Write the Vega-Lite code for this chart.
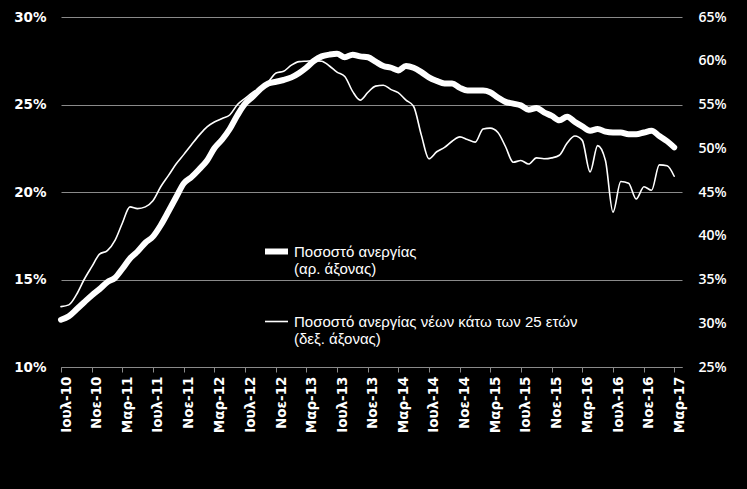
{
  "$schema": "https://vega.github.io/schema/vega-lite/v6.json",
  "width": 621,
  "height": 350,
  "autosize": {"type": "none"},
  "padding": {"left": 61, "top": 17, "right": 65, "bottom": 122},
  "background": "#000000",
  "config": {"view": {"stroke": null}, "font": "Liberation Sans"},
  "data": {"values": [
    {"d":"2010-07-01","s":"a","v":12.7},{"d":"2010-08-01","s":"a","v":12.9},{"d":"2010-09-01","s":"a","v":13.3},{"d":"2010-10-01","s":"a","v":13.7},{"d":"2010-11-01","s":"a","v":14.1},{"d":"2010-12-01","s":"a","v":14.45},
    {"d":"2011-01-01","s":"a","v":14.85},{"d":"2011-02-01","s":"a","v":15.1},{"d":"2011-03-01","s":"a","v":15.6},{"d":"2011-04-01","s":"a","v":16.2},{"d":"2011-05-01","s":"a","v":16.6},{"d":"2011-06-01","s":"a","v":17.1},{"d":"2011-07-01","s":"a","v":17.45},{"d":"2011-08-01","s":"a","v":18.1},{"d":"2011-09-01","s":"a","v":18.9},{"d":"2011-10-01","s":"a","v":19.7},{"d":"2011-11-01","s":"a","v":20.5},{"d":"2011-12-01","s":"a","v":20.85},
    {"d":"2012-01-01","s":"a","v":21.3},{"d":"2012-02-01","s":"a","v":21.8},{"d":"2012-03-01","s":"a","v":22.5},{"d":"2012-04-01","s":"a","v":23.0},{"d":"2012-05-01","s":"a","v":23.6},{"d":"2012-06-01","s":"a","v":24.4},{"d":"2012-07-01","s":"a","v":25.05},{"d":"2012-08-01","s":"a","v":25.45},{"d":"2012-09-01","s":"a","v":25.9},{"d":"2012-10-01","s":"a","v":26.2},{"d":"2012-11-01","s":"a","v":26.3},{"d":"2012-12-01","s":"a","v":26.4},
    {"d":"2013-01-01","s":"a","v":26.55},{"d":"2013-02-01","s":"a","v":26.8},{"d":"2013-03-01","s":"a","v":27.1},{"d":"2013-04-01","s":"a","v":27.5},{"d":"2013-05-01","s":"a","v":27.75},{"d":"2013-06-01","s":"a","v":27.85},{"d":"2013-07-01","s":"a","v":27.9},{"d":"2013-08-01","s":"a","v":27.7},{"d":"2013-09-01","s":"a","v":27.85},{"d":"2013-10-01","s":"a","v":27.75},{"d":"2013-11-01","s":"a","v":27.7},{"d":"2013-12-01","s":"a","v":27.45},
    {"d":"2014-01-01","s":"a","v":27.2},{"d":"2014-02-01","s":"a","v":27.1},{"d":"2014-03-01","s":"a","v":26.95},{"d":"2014-04-01","s":"a","v":27.2},{"d":"2014-05-01","s":"a","v":27.1},{"d":"2014-06-01","s":"a","v":26.85},{"d":"2014-07-01","s":"a","v":26.55},{"d":"2014-08-01","s":"a","v":26.35},{"d":"2014-09-01","s":"a","v":26.2},{"d":"2014-10-01","s":"a","v":26.2},{"d":"2014-11-01","s":"a","v":25.95},{"d":"2014-12-01","s":"a","v":25.8},
    {"d":"2015-01-01","s":"a","v":25.8},{"d":"2015-02-01","s":"a","v":25.8},{"d":"2015-03-01","s":"a","v":25.7},{"d":"2015-04-01","s":"a","v":25.4},{"d":"2015-05-01","s":"a","v":25.15},{"d":"2015-06-01","s":"a","v":25.05},{"d":"2015-07-01","s":"a","v":24.95},{"d":"2015-08-01","s":"a","v":24.7},{"d":"2015-09-01","s":"a","v":24.8},{"d":"2015-10-01","s":"a","v":24.55},{"d":"2015-11-01","s":"a","v":24.35},{"d":"2015-12-01","s":"a","v":24.1},
    {"d":"2016-01-01","s":"a","v":24.3},{"d":"2016-02-01","s":"a","v":24.0},{"d":"2016-03-01","s":"a","v":23.75},{"d":"2016-04-01","s":"a","v":23.5},{"d":"2016-05-01","s":"a","v":23.6},{"d":"2016-06-01","s":"a","v":23.45},{"d":"2016-07-01","s":"a","v":23.4},{"d":"2016-08-01","s":"a","v":23.4},{"d":"2016-09-01","s":"a","v":23.3},{"d":"2016-10-01","s":"a","v":23.3},{"d":"2016-11-01","s":"a","v":23.4},{"d":"2016-12-01","s":"a","v":23.5},
    {"d":"2017-01-01","s":"a","v":23.2},{"d":"2017-02-01","s":"a","v":22.9},{"d":"2017-03-01","s":"a","v":22.55},
    {"d":"2010-07-01","s":"b","v":31.9},{"d":"2010-08-01","s":"b","v":32.1},{"d":"2010-09-01","s":"b","v":33.3},{"d":"2010-10-01","s":"b","v":35.0},{"d":"2010-11-01","s":"b","v":36.5},{"d":"2010-12-01","s":"b","v":37.9},
    {"d":"2011-01-01","s":"b","v":38.3},{"d":"2011-02-01","s":"b","v":39.5},{"d":"2011-03-01","s":"b","v":41.4},{"d":"2011-04-01","s":"b","v":43.3},{"d":"2011-05-01","s":"b","v":43.1},{"d":"2011-06-01","s":"b","v":43.3},{"d":"2011-07-01","s":"b","v":44.0},{"d":"2011-08-01","s":"b","v":45.6},{"d":"2011-09-01","s":"b","v":46.9},{"d":"2011-10-01","s":"b","v":48.2},{"d":"2011-11-01","s":"b","v":49.3},{"d":"2011-12-01","s":"b","v":50.4},
    {"d":"2012-01-01","s":"b","v":51.5},{"d":"2012-02-01","s":"b","v":52.45},{"d":"2012-03-01","s":"b","v":53.0},{"d":"2012-04-01","s":"b","v":53.4},{"d":"2012-05-01","s":"b","v":53.8},{"d":"2012-06-01","s":"b","v":55.0},{"d":"2012-07-01","s":"b","v":55.7},{"d":"2012-08-01","s":"b","v":56.4},{"d":"2012-09-01","s":"b","v":56.9},{"d":"2012-10-01","s":"b","v":57.6},{"d":"2012-11-01","s":"b","v":58.6},{"d":"2012-12-01","s":"b","v":58.8},
    {"d":"2013-01-01","s":"b","v":59.5},{"d":"2013-02-01","s":"b","v":59.9},{"d":"2013-03-01","s":"b","v":59.95},{"d":"2013-04-01","s":"b","v":60.0},{"d":"2013-05-01","s":"b","v":59.95},{"d":"2013-06-01","s":"b","v":59.4},{"d":"2013-07-01","s":"b","v":58.7},{"d":"2013-08-01","s":"b","v":58.2},{"d":"2013-09-01","s":"b","v":56.5},{"d":"2013-10-01","s":"b","v":55.5},{"d":"2013-11-01","s":"b","v":56.4},{"d":"2013-12-01","s":"b","v":57.1},
    {"d":"2014-01-01","s":"b","v":57.2},{"d":"2014-02-01","s":"b","v":56.7},{"d":"2014-03-01","s":"b","v":56.35},{"d":"2014-04-01","s":"b","v":55.5},{"d":"2014-05-01","s":"b","v":54.8},{"d":"2014-06-01","s":"b","v":51.5},{"d":"2014-07-01","s":"b","v":48.8},{"d":"2014-08-01","s":"b","v":49.6},{"d":"2014-09-01","s":"b","v":50.1},{"d":"2014-10-01","s":"b","v":50.8},{"d":"2014-11-01","s":"b","v":51.3},{"d":"2014-12-01","s":"b","v":51.0},
    {"d":"2015-01-01","s":"b","v":50.7},{"d":"2015-02-01","s":"b","v":52.2},{"d":"2015-03-01","s":"b","v":52.3},{"d":"2015-04-01","s":"b","v":51.8},{"d":"2015-05-01","s":"b","v":50.2},{"d":"2015-06-01","s":"b","v":48.4},{"d":"2015-07-01","s":"b","v":48.6},{"d":"2015-08-01","s":"b","v":48.2},{"d":"2015-09-01","s":"b","v":48.9},{"d":"2015-10-01","s":"b","v":48.8},{"d":"2015-11-01","s":"b","v":48.9},{"d":"2015-12-01","s":"b","v":49.2},
    {"d":"2016-01-01","s":"b","v":50.6},{"d":"2016-02-01","s":"b","v":51.4},{"d":"2016-03-01","s":"b","v":50.9},{"d":"2016-04-01","s":"b","v":47.3},{"d":"2016-05-01","s":"b","v":50.3},{"d":"2016-06-01","s":"b","v":48.6},{"d":"2016-07-01","s":"b","v":42.7},{"d":"2016-08-01","s":"b","v":46.2},{"d":"2016-09-01","s":"b","v":46.0},{"d":"2016-10-01","s":"b","v":44.2},{"d":"2016-11-01","s":"b","v":45.6},{"d":"2016-12-01","s":"b","v":45.2},
    {"d":"2017-01-01","s":"b","v":48.1},{"d":"2017-02-01","s":"b","v":48.0},{"d":"2017-03-01","s":"b","v":46.8}
  ]},
  "encoding": {
    "x": {
      "field": "d", "type": "temporal",
      "scale": {"type": "utc", "domain": [{"year": 2010, "month": 7, "date": 1, "utc": true}, {"year": 2017, "month": 4, "date": 1, "utc": true}]},
      "axis": {
        "title": null,
        "values": [
          {"year":2010,"month":7,"date":1,"utc":true},{"year":2010,"month":11,"date":1,"utc":true},
          {"year":2011,"month":3,"date":1,"utc":true},{"year":2011,"month":7,"date":1,"utc":true},{"year":2011,"month":11,"date":1,"utc":true},
          {"year":2012,"month":3,"date":1,"utc":true},{"year":2012,"month":7,"date":1,"utc":true},{"year":2012,"month":11,"date":1,"utc":true},
          {"year":2013,"month":3,"date":1,"utc":true},{"year":2013,"month":7,"date":1,"utc":true},{"year":2013,"month":11,"date":1,"utc":true},
          {"year":2014,"month":3,"date":1,"utc":true},{"year":2014,"month":7,"date":1,"utc":true},{"year":2014,"month":11,"date":1,"utc":true},
          {"year":2015,"month":3,"date":1,"utc":true},{"year":2015,"month":7,"date":1,"utc":true},{"year":2015,"month":11,"date":1,"utc":true},
          {"year":2016,"month":3,"date":1,"utc":true},{"year":2016,"month":7,"date":1,"utc":true},{"year":2016,"month":11,"date":1,"utc":true},
          {"year":2017,"month":3,"date":1,"utc":true}
        ],
        "labelExpr": "['Ιαν','Φεβ','Μαρ','Απρ','Μαϊ','Ιουν','Ιουλ','Αυγ','Σεπ','Οκτ','Νοε','Δεκ'][utcmonth(datum.value)] + '-' + utcFormat(datum.value, '%y')",
        "labelAngle": -90,
        "labelFont": "DejaVu Sans",
        "labelFontWeight": "bold",
        "labelFontSize": 13.5,
        "labelColor": "#ffffff",
        "labelPadding": 4,
        "labelOffset": 5,
        "labelOverlap": false,
        "labelFlush": false,
        "domainColor": "#8a8a8a",
        "domainWidth": 1,
        "tickColor": "#8a8a8a",
        "tickSize": 5,
        "grid": false
      }
    },
    "strokeWidth": {
      "field": "s", "type": "nominal",
      "scale": {"domain": ["a", "b"], "range": [6, 1.6]},
      "legend": {
        "orient": "none",
        "legendX": 201,
        "legendY": 220,
        "title": null,
        "symbolType": "stroke",
        "symbolSize": 529,
        "symbolStrokeColor": "#ffffff",
        "labelColor": "#ffffff",
        "labelFont": "Liberation Sans",
        "labelFontSize": 15,
        "labelLimit": 0,
        "labelOffset": 3,
        "rowPadding": 32,
        "labelBaseline": "middle",
        "labelExpr": "datum.label == 'a' ? ['Ποσοστό ανεργίας', '(αρ. άξονας)'] : ['Ποσοστό ανεργίας νέων κάτω των 25 ετών', '(δεξ. άξονας)']"
      }
    }
  },
  "layer": [
    {
      "transform": [{"filter": "datum.s == 'b'"}],
      "mark": {"type": "line", "interpolate": "monotone", "color": "#ffffff", "strokeCap": "round", "strokeJoin": "round"},
      "encoding": {
        "y": {
          "field": "v", "type": "quantitative",
          "scale": {"domain": [25, 65], "nice": false, "zero": false},
          "axis": {
            "orient": "right", "title": null,
            "values": [25, 30, 35, 40, 45, 50, 55, 60, 65],
            "labelExpr": "datum.value + '%'",
            "grid": false, "domain": false, "ticks": false,
            "labelPadding": 16,
            "labelFont": "Open Sans", "labelFontWeight": 600, "labelFontSize": 14, "labelColor": "#ffffff"
          }
        }
      }
    },
    {
      "transform": [{"filter": "datum.s == 'a'"}],
      "mark": {"type": "line", "interpolate": "monotone", "color": "#ffffff", "strokeCap": "round", "strokeJoin": "round"},
      "encoding": {
        "y": {
          "field": "v", "type": "quantitative",
          "scale": {"domain": [10, 30], "nice": false, "zero": false},
          "axis": {
            "orient": "left", "title": null,
            "values": [10, 15, 20, 25, 30],
            "labelExpr": "datum.value + '%'",
            "grid": true, "gridColor": "#8a8a8a", "gridWidth": 1,
            "domain": false, "ticks": false,
            "labelPadding": 15,
            "labelFont": "DejaVu Sans", "labelFontWeight": "bold", "labelFontSize": 13.5, "labelColor": "#ffffff"
          }
        }
      }
    }
  ],
  "resolve": {"scale": {"y": "independent"}}
}
